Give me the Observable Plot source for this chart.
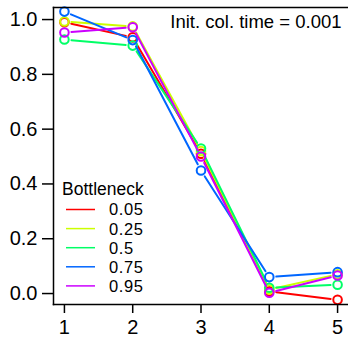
<!DOCTYPE html>
<html>
<head>
<meta charset="utf-8">
<script src="https://cdn.jsdelivr.net/npm/d3@7"></script>
<script src="https://cdn.jsdelivr.net/npm/@observablehq/plot@0.6"></script>
<style>
  html, body { margin: 0; padding: 0; background: #fff; }
  #chart { position: relative; width: 348px; height: 337px; overflow: hidden; }
</style>
</head>
<body>
<div id="chart"></div>
<script>
const xs = [1, 2, 3, 4, 5];
const bottlenecks = ["0.05", "0.25", "0.5", "0.75", "0.95"];
const colors = ["#FF0000", "#CCFF00", "#00FF66", "#0066FF", "#CC00FF"];
const v005 = [0.990, 0.935, 0.510, 0.008, -0.023];
const v025 = [0.993, 0.975, 0.520, 0.015, 0.070];
const v05  = [0.927, 0.905, 0.529, 0.021, 0.032];
const v075 = [1.029, 0.925, 0.449, 0.060, 0.078];
const v095 = [0.953, 0.972, 0.500, 0.003, 0.066];
const yTicks = [0, 0.2, 0.4, 0.6, 0.8, 1.0];
const annotation = "Init. col. time = 0.001";
const legendTitle = "Bottleneck";

const seriesValues = [v005, v025, v05, v075, v095];
const FONT = "'Liberation Sans', Arial, sans-serif";

const marks = [];
seriesValues.forEach((vals, i) => {
  const pts = xs.map((x, j) => ({x, y: vals[j]}));
  const segs = pts.slice(1).map((p, j) => ({x1: pts[j].x, y1: pts[j].y, x2: p.x, y2: p.y}));
  marks.push(Plot.arrow(segs, {
    x1: "x1", y1: "y1", x2: "x2", y2: "y2",
    stroke: colors[i], strokeWidth: 2, headLength: 0, inset: 7, bend: 0
  }));
  marks.push(Plot.dot(pts, {
    x: "x", y: "y", r: 4.3, stroke: colors[i], strokeWidth: 2, fill: "none"
  }));
});

const plot = Plot.plot({
  width: 348,
  height: 337,
  marginLeft: 53,
  marginRight: 0,
  marginTop: 7,
  marginBottom: 33,
  style: {fontFamily: FONT, fontSize: "18px", background: "#fff", color: "#000"},
  x: {domain: [0.84, 5.16], label: null},
  y: {domain: [-0.04, 1.044], label: null},
  marks: [
    Plot.axisX({ticks: xs, tickFormat: d => String(d), tickSize: 9, tickPadding: 6, fontSize: 20, strokeWidth: 1.5, label: null}),
    Plot.axisY({ticks: yTicks, tickFormat: d => d.toFixed(1), tickSize: 11, tickPadding: 5, fontSize: 20, strokeWidth: 1.5, label: null}),
    ...marks,
    Plot.frame({anchor: "left", strokeWidth: 1.5}),
    Plot.frame({anchor: "top", strokeWidth: 1.5}),
    Plot.frame({anchor: "bottom", strokeWidth: 1.5}),
    Plot.text([annotation], {frameAnchor: "top-right", text: d => d, dx: -7, dy: 7, fontSize: 18.5, textAnchor: "end", lineAnchor: "top"})
  ]
});

document.getElementById("chart").appendChild(plot);

// legend inside the plot area
const svg = d3.select(plot);
const lg = svg.append("g").attr("transform", "translate(62,195)")
  .style("font-family", FONT).style("font-size", "17.5px").attr("text-anchor", "start");
lg.append("text").attr("x", 0).attr("y", 0).attr("text-anchor", "start").text(legendTitle);
bottlenecks.forEach((b, i) => {
  const y = 14.5 + i * 19.1;
  lg.append("line").attr("x1", 4).attr("x2", 33).attr("y1", y).attr("y2", y)
    .attr("stroke", colors[i]).attr("stroke-width", 1.5);
  lg.append("text").attr("x", 47).attr("y", y).attr("dy", "0.36em").attr("text-anchor", "start")
    .style("font-size", "16.5px").style("letter-spacing", "0.6px").text(b);
});
</script>
</body>
</html>
